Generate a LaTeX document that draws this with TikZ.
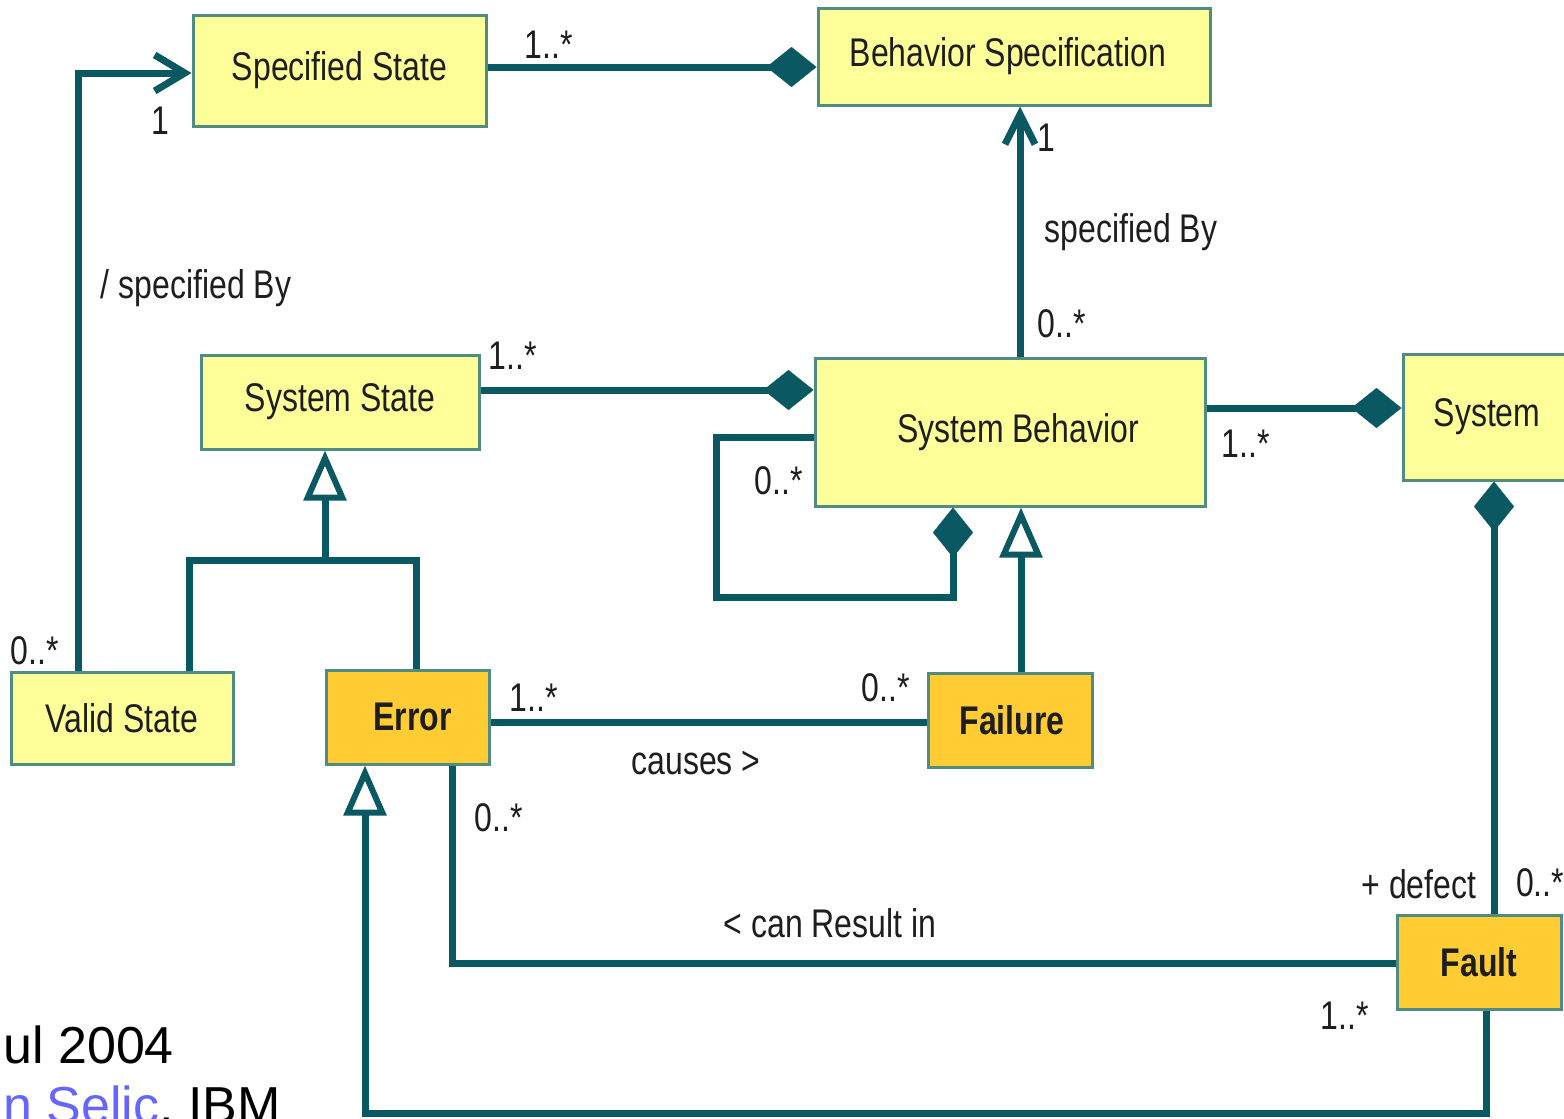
\documentclass[tikz,border=0pt]{standalone}
\usepackage{fontspec}
\setmainfont{Liberation Sans}
\usepackage{graphicx}
\usetikzlibrary{arrows.meta}
\definecolor{linec}{RGB}{10,88,98}
\definecolor{boxc}{RGB}{80,140,130}
\definecolor{ylw}{RGB}{255,255,153}
\definecolor{orng}{RGB}{255,204,51}
\definecolor{bluec}{RGB}{102,102,255}
\definecolor{txtc}{RGB}{30,30,30}
\newcommand{\ct}[1]{\scalebox{0.8}[1]{#1}}
\tikzset{
  dmd/.tip={Diamond[length=25pt,width=20pt,line width=0.1pt]},
  gen/.tip={Triangle[open,length=25pt,width=21pt,line width=3pt]},
  barbA/.tip={Straight Barb[length=15pt,width=18pt]},
  barbB/.tip={Straight Barb[length=15pt,width=15pt]},
}
\begin{document}
\begin{tikzpicture}[x=0.5pt,y=-0.5pt,
  box/.style={draw=boxc, line width=1.5pt, fill=ylw, inner sep=0pt, text=txtc,
    font=\fontsize{20}{24}\selectfont},
  obox/.style={box, fill=orng, font=\fontsize{20}{24}\selectfont\bfseries},
  conn/.style={draw=linec, line width=3.5pt, line join=miter},
  lab/.style={inner sep=0pt, text=txtc, font=\fontsize{20}{24}\selectfont,
    text height=14.4pt, text depth=0pt},
  big/.style={inner sep=0pt, anchor=base west, font=\fontsize{26}{30}\selectfont}
]
\clip (0,0) rectangle (1564,1119);
\fill[white] (0,0) rectangle (1564,1119);

% classes
\node[box, minimum width=146.5pt, minimum height=55.5pt] (sstate) at (339.5,70.5) {\ct{Specified State}};
\node[box, minimum width=196pt, minimum height=48.5pt] (bspec) at (1014,56.5) {\ct{Behavior Specification}\hspace*{6pt}};
\node[box, minimum width=139pt, minimum height=47pt] (sysstate) at (340,402) {\ct{System State}};
\node[box, minimum width=195pt, minimum height=74pt] (sbeh) at (1010,432) {\hspace*{8pt}\ct{System Behavior}};
\node[box, minimum width=84pt, minimum height=63pt] (system) at (1487,417) {\ct{System}};
\node[box, minimum width=111pt, minimum height=46pt] (vstate) at (122,718) {\ct{Valid State}};
\node[obox, minimum width=81.5pt, minimum height=47pt] (error) at (407.5,717) {\hspace*{5pt}\ct{Error}};
\node[obox, minimum width=82pt, minimum height=47pt] (failure) at (1010,720) {\hspace*{2pt}\ct{Failure}};
\node[obox, minimum width=82pt, minimum height=47pt] (fault) at (1479,962) {\ct{Fault}};

% bend / routing coordinates
\coordinate (a1) at (78,73);
\coordinate (a2) at (600,67);
\coordinate (a3) at (1020,200);
\coordinate (a4) at (600,390);
\coordinate (l1) at (716,437);
\coordinate (l2) at (953,597);
\coordinate (a6) at (1300,408);
\coordinate (a7) at (1021,600);
\coordinate (g1) at (189,560);
\coordinate (g2) at (416,560);
\coordinate (g3) at (325,560);
\coordinate (a9) at (700,722);
\coordinate (e1) at (452,963);
\coordinate (f1) at (1494,700);
\coordinate (h1) at (1486,1113);
\coordinate (h2) at (365,1113);

% connectors
\draw[conn, -{barbA}] (vstate.north -| a1) |- (sstate.west |- a1);
\draw[conn, -{dmd}] (sstate.east |- a2) -- (bspec.west |- a2);
\draw[conn, -{barbB}] (sbeh.north -| a3) -- (bspec.south -| a3);
\draw[conn, -{dmd}] (sysstate.east |- a4) -- (sbeh.west |- a4);
\draw[conn, -{dmd}] (sbeh.west |- l1) -- (l1) |- (l2) -- (l2 |- sbeh.south);
\draw[conn, -{dmd}] (sbeh.east |- a6) -- (system.west |- a6);
\draw[conn, -{gen}] (failure.north -| a7) -- (sbeh.south -| a7);
\draw[conn] (vstate.north -| g1) -- (g1) -- (g2) -- (error.north -| g2);
\draw[conn, -{gen}] (g3) -- (sysstate.south -| g3);
\draw[conn] (error.east |- a9) -- (failure.west |- a9);
\draw[conn] (error.south -| e1) |- (fault.west |- e1);
\draw[conn, -{dmd}] (fault.north -| f1) -- (system.south -| f1);
\draw[conn, -{gen}] (fault.south -| h1) -- (h1) -- (h2) -- (error.south -| h2);

% labels
\node[lab] (m1) at (160,120) {\ct{1}};
\node[lab] (t1) at (196,284) {\ct{/ specified By}};
\node[lab] (m2) at (549,44) {\ct{1..*}};
\node[lab] (m3) at (1046,137) {\ct{1}};
\node[lab] (t2) at (1131,228) {\ct{specified By}};
\node[lab] (m4) at (1062,323) {\ct{0..*}};
\node[lab] (m5) at (513,355) {\ct{1..*}};
\node[lab] (m6) at (779,480) {\ct{0..*}};
\node[lab] (m7) at (1246,443) {\ct{1..*}};
\node[lab] (m8) at (35,650) {\ct{0..*}};
\node[lab] (m9) at (534,697) {\ct{1..*}};
\node[lab] (m10) at (886,687) {\ct{0..*}};
\node[lab] (t3) at (696,760) {\ct{causes >}};
\node[lab] (m11) at (499,817) {\ct{0..*}};
\node[lab] (t4) at (830,923) {\ct{< can Result in}};
\node[lab] (t5) at (1419,884) {\ct{+ defect}};
\node[lab] (m12) at (1540,882) {\ct{0..*}};
\node[lab] (m13) at (1345,1015) {\ct{1..*}};

% clipped slide footer text (cut off at the edges, as in the reference)
\node[big] (d1) at (3,1063) {ul 2004};
\node[big] (d2) at (3,1123) {\textcolor{bluec}{n Selic}, IBM};
\end{tikzpicture}
\end{document}
